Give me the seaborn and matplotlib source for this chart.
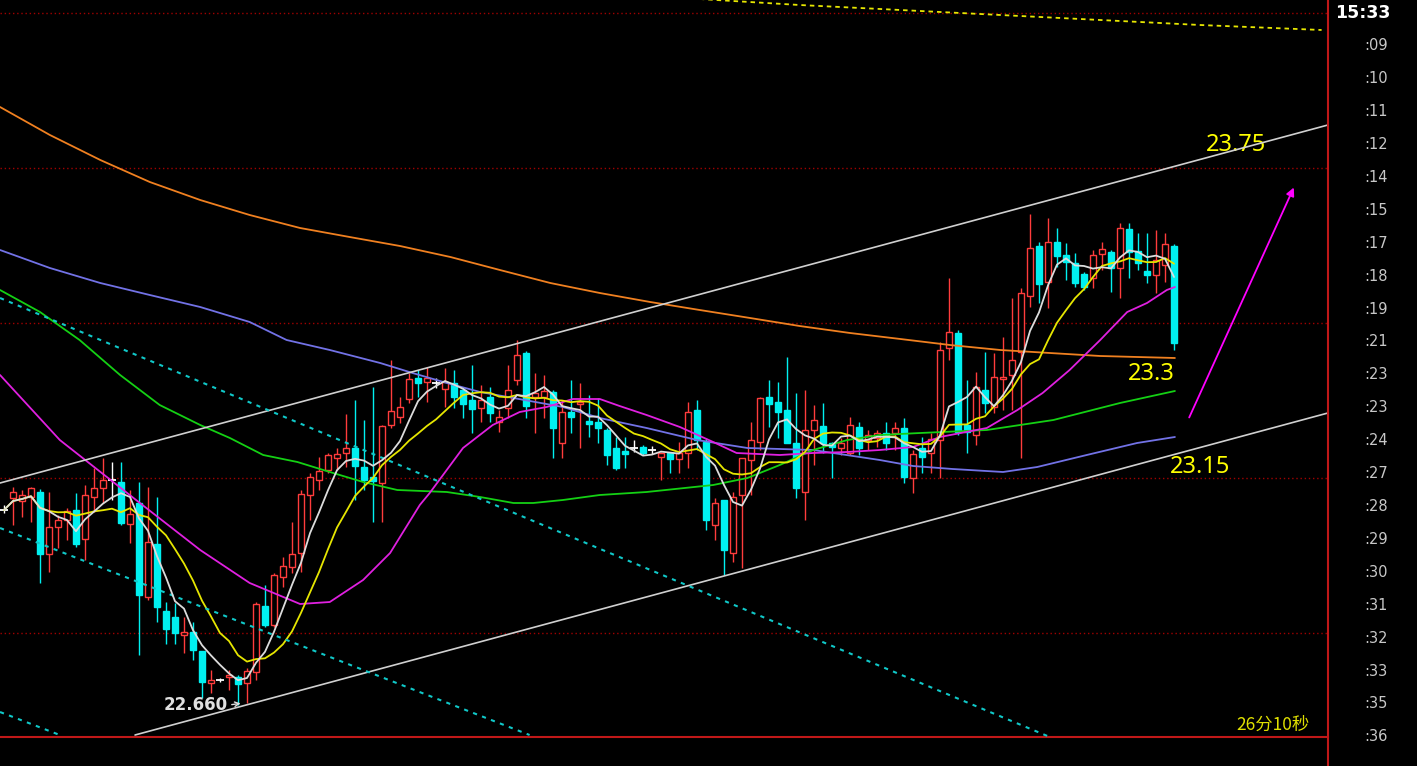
import numpy as np
import pandas as pd
import matplotlib
matplotlib.use("Agg")
import matplotlib.pyplot as plt
import seaborn as sns
from matplotlib.lines import Line2D

# ---------------- data (prices) ----------------
opens = [23.05, 23.074, 23.068, 23.076, 23.086, 22.962, 23.016, 23.03, 23.05, 22.992,
         23.076, 23.094, 23.11, 23.106, 23.022, 23.064, 22.876, 22.982, 22.848, 22.836,
         22.8, 22.806, 22.768, 22.704, 22.71, 22.716, 22.716, 22.704, 22.726, 22.858,
         22.82, 22.916, 22.936, 22.964, 23.08, 23.11, 23.13, 23.154, 23.164, 23.174,
         23.136, 23.116, 23.104, 23.22, 23.236, 23.272, 23.314, 23.306, 23.304, 23.292,
         23.304, 23.29, 23.27, 23.254, 23.276, 23.226, 23.254, 23.31, 23.364, 23.276,
         23.276, 23.286, 23.184, 23.246, 23.262, 23.228, 23.226, 23.21, 23.174, 23.168,
         23.174, 23.176, 23.17, 23.156, 23.164, 23.152, 23.164, 23.25, 23.186, 23.02,
         23.07, 22.964, 23.08, 23.15, 23.186, 23.276, 23.266, 23.25, 23.184, 23.086,
         23.21, 23.218, 23.184, 23.174, 23.164, 23.216, 23.19, 23.194, 23.204, 23.204,
         23.214, 23.114, 23.174, 23.164, 23.19, 23.374, 23.404, 23.22, 23.2, 23.29,
         23.256, 23.312, 23.32, 23.366, 23.478, 23.578, 23.506, 23.586, 23.56, 23.544,
         23.522, 23.514, 23.562, 23.566, 23.534, 23.612, 23.568, 23.528, 23.52, 23.54,
         23.578]
highs = [23.06, 23.096, 23.09, 23.096, 23.092, 23.086, 23.04, 23.054, 23.084, 23.1,
         23.134, 23.154, 23.146, 23.146, 23.09, 23.106, 23.096, 23.076, 22.866, 22.864,
         22.836, 22.826, 22.768, 22.73, 22.714, 22.73, 22.72, 22.734, 22.866, 22.9,
         22.924, 22.956, 23.026, 23.09, 23.124, 23.156, 23.164, 23.174, 23.242, 23.27,
         23.23, 23.296, 23.22, 23.35, 23.276, 23.324, 23.33, 23.336, 23.314, 23.334,
         23.33, 23.296, 23.34, 23.3, 23.296, 23.25, 23.34, 23.39, 23.368, 23.324,
         23.32, 23.29, 23.27, 23.31, 23.304, 23.28, 23.274, 23.214, 23.196, 23.196,
         23.19, 23.18, 23.178, 23.166, 23.166, 23.186, 23.266, 23.27, 23.194, 23.074,
         23.07, 23.086, 23.154, 23.226, 23.276, 23.31, 23.306, 23.356, 23.284, 23.29,
         23.26, 23.264, 23.186, 23.194, 23.236, 23.226, 23.21, 23.21, 23.226, 23.226,
         23.234, 23.17, 23.196, 23.204, 23.386, 23.514, 23.41, 23.31, 23.326, 23.366,
         23.364, 23.396, 23.474, 23.494, 23.642, 23.586, 23.634, 23.614, 23.584, 23.564,
         23.526, 23.57, 23.586, 23.57, 23.624, 23.624, 23.604, 23.604, 23.61, 23.604,
         23.582]
lows = [23.044, 23.02, 23.036, 23.026, 22.904, 22.926, 22.974, 22.99, 22.976, 22.95,
        23.046, 23.064, 23.07, 23.02, 22.984, 22.76, 22.87, 22.826, 22.782, 22.782,
        22.764, 22.75, 22.674, 22.684, 22.706, 22.69, 22.66, 22.664, 22.71, 22.816,
        22.816, 22.896, 22.924, 22.926, 23.03, 23.09, 23.124, 23.13, 23.136, 23.07,
        23.09, 23.026, 23.026, 23.214, 23.224, 23.264, 23.276, 23.266, 23.294, 23.256,
        23.254, 23.234, 23.204, 23.226, 23.226, 23.206, 23.234, 23.3, 23.234, 23.204,
        23.234, 23.154, 23.154, 23.204, 23.174, 23.196, 23.184, 23.14, 23.13, 23.134,
        23.166, 23.16, 23.162, 23.11, 23.124, 23.124, 23.134, 23.17, 23.01, 22.99,
        22.92, 22.946, 22.934, 23.08, 23.17, 23.216, 23.194, 23.184, 23.074, 23.03,
        23.14, 23.164, 23.114, 23.16, 23.16, 23.16, 23.17, 23.176, 23.17, 23.17,
        23.104, 23.084, 23.124, 23.124, 23.114, 23.35, 23.2, 23.164, 23.18, 23.244,
        23.244, 23.25, 23.25, 23.154, 23.456, 23.464, 23.454, 23.536, 23.51, 23.496,
        23.49, 23.494, 23.53, 23.486, 23.474, 23.514, 23.53, 23.504, 23.484, 23.506,
        23.37]
closes = [23.05, 23.086, 23.08, 23.094, 22.962, 23.016, 23.03, 23.048, 22.982, 23.08,
          23.094, 23.11, 23.11, 23.024, 23.042, 22.88, 22.986, 22.856, 22.812, 22.804,
          22.806, 22.77, 22.706, 22.71, 22.71, 22.72, 22.702, 22.728, 22.862, 22.82,
          22.92, 22.938, 22.962, 23.082, 23.116, 23.128, 23.16, 23.162, 23.174, 23.138,
          23.11, 23.108, 23.218, 23.248, 23.256, 23.312, 23.304, 23.314, 23.304, 23.306,
          23.276, 23.262, 23.252, 23.27, 23.244, 23.236, 23.29, 23.36, 23.258, 23.284,
          23.288, 23.214, 23.246, 23.236, 23.266, 23.222, 23.214, 23.16, 23.134, 23.162,
          23.174, 23.164, 23.17, 23.164, 23.152, 23.164, 23.246, 23.19, 23.03, 23.064,
          22.97, 23.076, 23.154, 23.19, 23.274, 23.262, 23.246, 23.184, 23.094, 23.21,
          23.23, 23.184, 23.176, 23.184, 23.22, 23.174, 23.2, 23.204, 23.184, 23.214,
          23.116, 23.162, 23.156, 23.192, 23.37, 23.406, 23.206, 23.206, 23.296, 23.264,
          23.316, 23.316, 23.35, 23.484, 23.574, 23.502, 23.586, 23.558, 23.546, 23.504,
          23.496, 23.56, 23.572, 23.534, 23.614, 23.566, 23.544, 23.52, 23.55, 23.582,
          23.384]

# long moving averages (bar index, price)
ma20_idx = [-0.44, 6.2, 15.1, 21.8, 27.3, 32.9, 36.2, 39.9, 42.9, 46.2, 47.3, 51, 54.3, 57.3,
            60.3, 63.2, 66.2, 68.4, 71.4, 75.1, 78.8, 81.4, 86.2, 89.9, 93.7, 97.3, 101, 104,
            109.2, 112.6, 115.4, 118.4, 121.8, 124.8, 127, 129.2, 130.1]
ma20_val = [23.32, 23.19, 23.064, 22.97, 22.904, 22.862, 22.866, 22.91, 22.964, 23.06, 23.084,
            23.174, 23.22, 23.246, 23.256, 23.272, 23.272, 23.258, 23.24, 23.216, 23.186, 23.164,
            23.16, 23.164, 23.166, 23.17, 23.176, 23.196, 23.214, 23.25, 23.284, 23.33, 23.39,
            23.446, 23.464, 23.49, 23.496]
ma60_idx = [-0.44, 4, 8.4, 12.9, 17.3, 21.8, 25.1, 28.8, 32.6, 36.2, 39.9, 43.7, 49.2, 52.9,
            56.6, 58.8, 62.1, 66.2, 71.4, 78.8, 82.6, 86.2, 89.9, 93.7, 97.3, 101.8, 109.2,
            116.6, 124, 130.1]
ma60_val = [23.49, 23.446, 23.39, 23.32, 23.26, 23.22, 23.194, 23.16, 23.146, 23.126, 23.106,
            23.09, 23.086, 23.076, 23.064, 23.064, 23.07, 23.08, 23.086, 23.1, 23.114, 23.14,
            23.17, 23.19, 23.2, 23.204, 23.21, 23.23, 23.264, 23.288]
ma120_idx = [-0.44, 5.1, 10.7, 16.2, 21.8, 27.3, 31.4, 36.2, 41.8, 45.4, 49.2, 52.9, 56.6,
             62.1, 66.2, 71.4, 77, 82.6, 89.9, 97.3, 101, 105.4, 111, 114.8, 120.3, 125.9, 130.1]
ma120_val = [23.57, 23.534, 23.504, 23.48, 23.456, 23.426, 23.39, 23.37, 23.344, 23.324, 23.304,
             23.286, 23.274, 23.256, 23.234, 23.214, 23.19, 23.174, 23.17, 23.15, 23.138, 23.132,
             23.126, 23.136, 23.16, 23.184, 23.196]
ma250_idx = [-0.44, 5.1, 10.7, 16.2, 21.8, 27.3, 32.9, 38.4, 44, 49.6, 55.1, 60.7, 66.2, 71.8,
             77.3, 82.9, 88.4, 94, 99.6, 105.1, 110.7, 116.2, 121.8, 130.1]
ma250_val = [23.856, 23.8, 23.75, 23.706, 23.67, 23.64, 23.614, 23.596, 23.578, 23.556, 23.53,
             23.504, 23.484, 23.466, 23.45, 23.434, 23.418, 23.404, 23.392, 23.38, 23.37, 23.364,
             23.358, 23.354]
top_dash_idx = [77.3, 88.4, 99.6, 110.7, 121.8, 132.9, 146.4]
top_dash_val = [24.072, 24.06, 24.05, 24.04, 24.03, 24.02, 24.01]

# hand-drawn lines (bar index, price)
chan_upper = [(-0.44, 23.104), (147.1, 23.82)]
chan_lower = [(14.56, 22.60), (147.1, 23.244)]
cyan_lines = [[(-0.44, 23.474), (116.2, 22.596)],
              [(-0.44, 23.014), (58.4, 22.600)],
              [(-0.44, 22.646), (6.2, 22.600)]]
grid_prices = [24.044, 23.734, 23.424, 23.114, 22.804]

notes = ["23.75", "23.3", "23.15"]
low_label = "22.660"
timer_label = "26分10秒"
right_labels = ['15:33', ':09', ':10', ':11', ':12', ':14', ':15', ':17', ':18', ':19', ':21',
                ':23', ':23', ':24', ':27', ':28', ':29', ':30', ':31', ':32', ':33', ':35', ':36']

# ---------------- style ----------------
sns.set_theme(style="dark", rc={"axes.facecolor": "black", "figure.facecolor": "black",
                                "savefig.facecolor": "black"})
plt.rcParams['font.family'] = ['DejaVu Sans']

RED = '#ff3c3c'
CYAN = '#00f0f0'
fig = plt.figure(figsize=(14.17, 7.66), dpi=100)
W, H = 1417, 766
ax = fig.add_axes([0, (H - 737) / H, 1328 / W, 737 / H])
ax.set_facecolor('black')

n = len(closes)
df = pd.DataFrame(dict(i=np.arange(n), o=opens, h=highs, l=lows, c=closes))
up = df[df.c > df.o]
dn = df[df.c < df.o]
dj = df[df.c == df.o]
bw = 0.66

ax.vlines(up.i, up.l, up.h, color=RED, lw=1.0, zorder=2)
ax.bar(up.i, (up.c - up.o).clip(lower=0.002), bottom=up.o, width=bw,
       facecolor='black', edgecolor=RED, lw=1.0, zorder=3)
ax.vlines(dn.i, dn.l, dn.h, color=CYAN, lw=1.0, zorder=2)
ax.bar(dn.i, (dn.o - dn.c).clip(lower=0.002), bottom=dn.c, width=bw,
       facecolor=CYAN, edgecolor=CYAN, lw=1.0, zorder=3)
ax.vlines(dj.i, dj.l, dj.h, color='white', lw=1.0, zorder=2)
ax.hlines(dj.o, dj.i - 0.45, dj.i + 0.45, color='white', lw=1.3, zorder=3)

# moving averages
df['ma5'] = df.c.rolling(5, min_periods=1).mean()
df['ma10'] = df.c.rolling(10, min_periods=1).mean()
lw = 1.3
sns.lineplot(x=ma250_idx, y=ma250_val, ax=ax, color='#f08020', lw=lw, sort=False, estimator=None, zorder=4)
sns.lineplot(x=ma120_idx, y=ma120_val, ax=ax, color='#7272e6', lw=lw, sort=False, estimator=None, zorder=4)
sns.lineplot(x=ma60_idx, y=ma60_val, ax=ax, color='#14d014', lw=lw, sort=False, estimator=None, zorder=4)
sns.lineplot(x=ma20_idx, y=ma20_val, ax=ax, color='#e020e0', lw=lw, sort=False, estimator=None, zorder=4)
sns.lineplot(data=df, x='i', y='ma10', ax=ax, color='#e6e600', lw=lw, sort=False, estimator=None, zorder=5)
sns.lineplot(data=df, x='i', y='ma5', ax=ax, color='#dcdcdc', lw=lw, sort=False, estimator=None, zorder=6)
sns.lineplot(x=top_dash_idx, y=top_dash_val, ax=ax, color='#e6e600', lw=1.3, sort=False,
             estimator=None, zorder=4, linestyle=(0, (2.5, 2.2)))

for line in (chan_upper, chan_lower):
    xs, ys = zip(*line)
    ax.plot(xs, ys, color='#d0d0d0', lw=1.2, zorder=5)
for line in cyan_lines:
    xs, ys = zip(*line)
    ax.plot(xs, ys, color='#10c8c8', lw=1.5, zorder=5, linestyle=(0, (2, 2.6)))

# axes setup
ax.set_xlim(-0.444, 147.11)
ax.set_ylim(22.596, 24.07)
ax.set_yticks(grid_prices)
ax.set_xticks([])
ax.tick_params(left=False, labelleft=False, bottom=False, labelbottom=False)
ax.grid(False)
for gp in grid_prices:
    ax.axhline(gp, color='#a00000', lw=1.0, linestyle=(0, (1, 2)), zorder=1)
ax.set_xlabel('')
ax.set_ylabel('')
for s in ['left', 'top']:
    ax.spines[s].set_visible(False)
ax.spines['right'].set_visible(False)
ax.spines['bottom'].set_color('#c01818')
ax.spines['bottom'].set_linewidth(1.5)
fig.add_artist(Line2D([1328 / W, 1328 / W], [0, 1], color='#c01818', lw=1.5))

# annotations
yel = '#ffff00'
ax.text(133.56, 23.78, notes[0], color=yel, fontsize=17, family='Noto Sans', va='center', ha='left')
ax.text(124.9, 23.322, notes[1], color=yel, fontsize=17, family='Noto Sans', va='center', ha='left')
ax.text(129.5, 23.136, notes[2], color=yel, fontsize=17, family='Noto Sans', va='center', ha='left')
ax.text(24.9, 22.66, low_label, color='#e0e0e0', fontsize=12, fontweight='bold',
        family='DejaVu Sans', va='center', ha='right')
ax.annotate('', xy=(26.6, 22.664), xytext=(25.0, 22.660),
            arrowprops=dict(arrowstyle='->', color='#e0e0e0', lw=1.0, mutation_scale=8))
ax.annotate('', xy=(143.44, 23.70), xytext=(131.56, 23.23),
            arrowprops=dict(arrowstyle='-|>', color='#ff00ff', lw=1.3, mutation_scale=12))

fig.text(1310 / W, 1 - 725 / H, timer_label, color='#e0e000', fontsize=12.5,
         family=['Noto Sans CJK SC', 'DejaVu Sans'], ha='right', va='center')

for k, lab in enumerate(right_labels):
    y = 1 - (13 + 32.9 * k) / H
    if k == 0:
        fig.text(1390 / W, y, lab, color='white', fontsize=12.5, fontweight='bold', ha='right', va='center')
    else:
        fig.text(1388 / W, y, lab, color='#c8c8c8', fontsize=10.5, ha='right', va='center')

fig.savefig('out.png', dpi=100, facecolor='black')
